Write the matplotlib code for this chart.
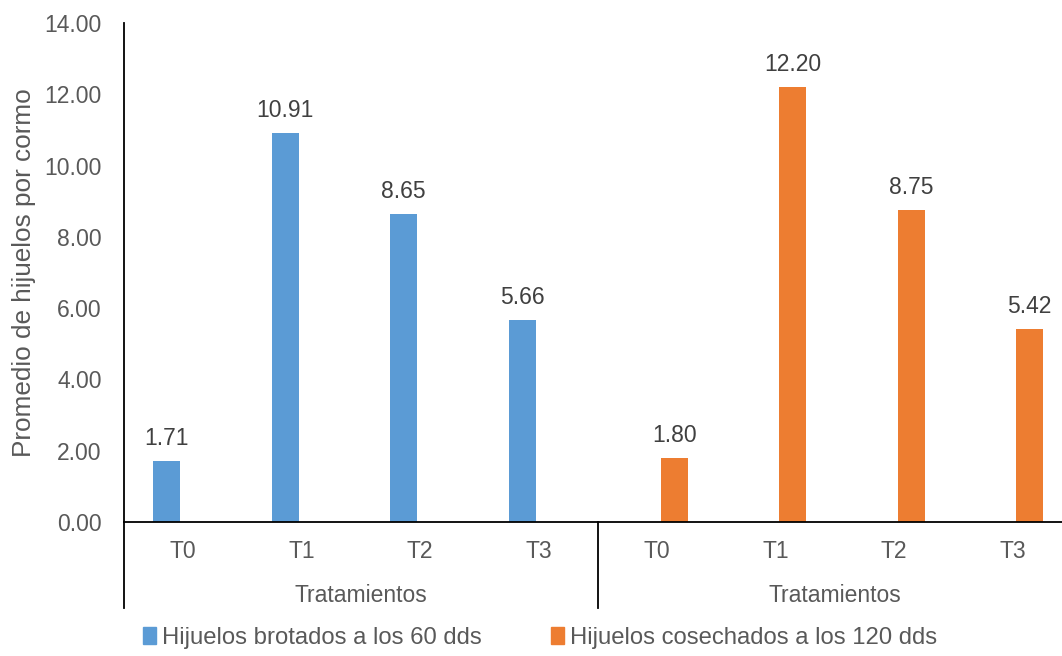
import numpy as np
import matplotlib.pyplot as plt
from matplotlib.patches import Patch

# datos del grafico
tratamientos = ["T0", "T1", "T2", "T3"]
grupo = "Tratamientos"
brotados_60 = [1.71, 10.91, 8.65, 5.66]
cosechados_120 = [1.80, 12.20, 8.75, 5.42]
nombres = ["Hijuelos brotados a los 60 dds", "Hijuelos cosechados a los 120 dds"]

azul = "#5B9BD5"
naranja = "#ED7D31"
gris = "#595959"
fs = 16.5

plt.rcParams["font.family"] = ["Liberation Sans", "DejaVu Sans"]

fig = plt.figure(figsize=(10.62, 6.56), dpi=100)
ax = fig.add_axes([124 / 1062, 1 - 522 / 656, 948 / 1062, 499 / 656])

n = len(tratamientos)
ancho = 0.228
pos = np.arange(n) + 0.5
x_azul = pos - 0.14
x_nar = pos + n + 0.143

b1 = ax.bar(x_azul, brotados_60, width=ancho, color=azul)
b2 = ax.bar(x_nar, cosechados_120, width=ancho, color=naranja)

for barras, vals in ((b1, brotados_60), (b2, cosechados_120)):
    for b, v in zip(barras, vals):
        ax.annotate(f"{v:.2f}", (b.get_x() + b.get_width() / 2, v),
                    xytext=(0, 8), textcoords="offset points",
                    ha="center", va="bottom", fontsize=fs, color="#404040")

ax.set_xlim(0, 2 * n)
ax.set_ylim(0, 14)
ax.set_yticks(np.arange(0, 14.01, 2))
ax.set_yticklabels([f"{t:.2f}" for t in np.arange(0, 14.01, 2)])
ax.tick_params(axis="y", length=0, labelsize=fs, labelcolor=gris, pad=16)
ax.set_xticks([])

for s in ["top", "right"]:
    ax.spines[s].set_visible(False)
ax.spines["left"].set_color("black")
ax.spines["bottom"].set_color("black")
ax.spines["bottom"].set_linewidth(1.3)
ax.spines["left"].set_linewidth(1.3)

ax.set_ylabel("Promedio de hijuelos por cormo", fontsize=18.8, color=gris, labelpad=6)

# eje de categorias en dos niveles
trans = ax.get_xaxis_transform()
fondo = -86 / 499
for sep in [0, n]:
    ax.plot([sep, sep], [0, fondo], transform=trans, color="black", lw=1.3, clip_on=False)
for g in range(2):
    for i, t in enumerate(tratamientos):
        ax.text(g * n + i + 0.5, -29 / 499, t, transform=trans, ha="center", va="center",
                fontsize=fs, color=gris)
    ax.text(g * n + n / 2, -73 / 499, grupo, transform=trans, ha="center", va="center",
            fontsize=fs, color=gris)

handles = [Patch(color=azul), Patch(color=naranja)]
fig.legend(handles, nombres, loc="center", bbox_to_anchor=(540 / 1062, 1 - 638 / 656),
           ncol=2, frameon=False, fontsize=17.2, handlelength=0.55, handleheight=0.7,
           handletextpad=0.25, columnspacing=2.9, labelcolor=gris)

fig.savefig("out.png", dpi=100)
